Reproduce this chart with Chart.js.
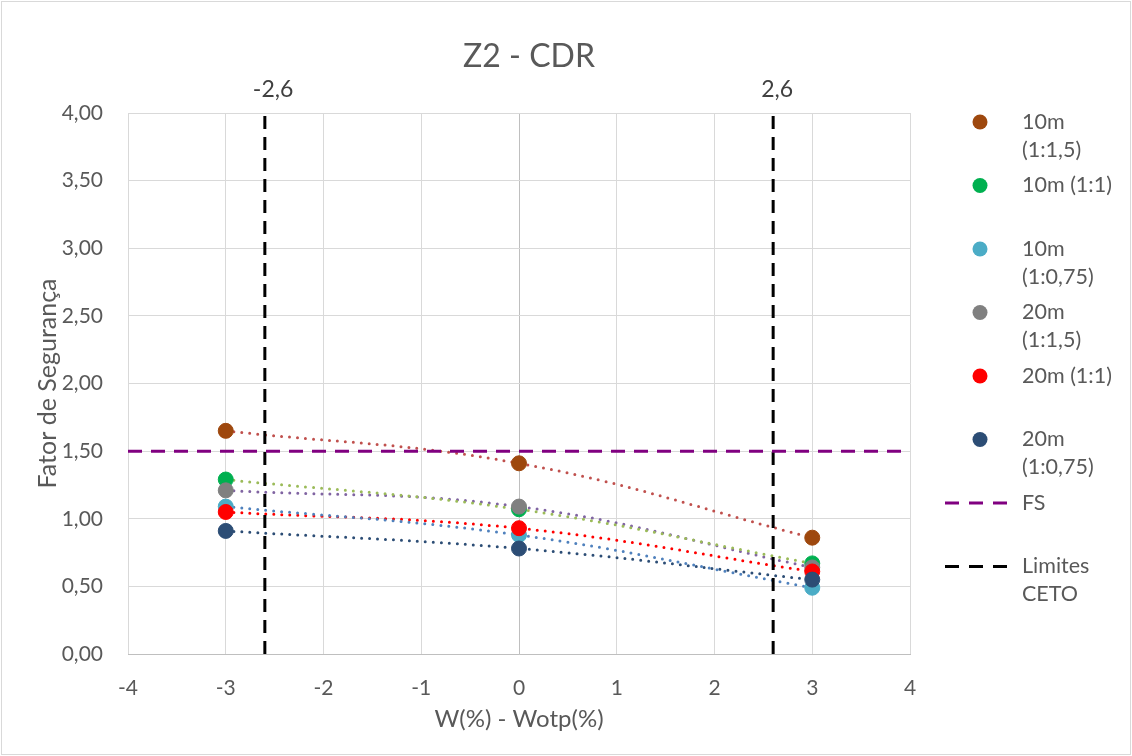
<!DOCTYPE html>
<html>
<head>
<meta charset="utf-8">
<title>Z2 - CDR</title>
<script src="https://cdn.jsdelivr.net/npm/chart.js@4.4.0/dist/chart.umd.min.js"></script>
<style>
  html, body { margin: 0; padding: 0; background: #fff; }
  #wrap { width: 1132px; height: 756px; }
</style>
</head>
<body>
<div id="wrap"><canvas id="chart" width="1132" height="756"></canvas></div>
<script>
// Fator de segurança for each slope, at W - Wotp = -3, 0, 3 (%)
const chartTitle = 'Z2 - CDR';
const xValues = [-3, 0, 3];
const seriesNames = ['10m (1:1,5)', '10m (1:1)', '10m (1:0,75)', '20m (1:1,5)', '20m (1:1)', '20m (1:0,75)'];
const fs10m_15 = [1.65, 1.41, 0.86];
const fs10m_1 = [1.29, 1.07, 0.67];
const fs10m_075 = [1.09, 0.88, 0.49];
const fs20m_15 = [1.21, 1.09, 0.64];
const fs20m_1 = [1.05, 0.93, 0.61];
const fs20m_075 = [0.91, 0.78, 0.55];
const seriesValues = [fs10m_15, fs10m_1, fs10m_075, fs20m_15, fs20m_1, fs20m_075];

// reference lines
const fsMin = 1.5;
const cetoLimits = [-2.6, 2.6];
const xTicks = [-4, -3, -2, -1, 0, 1, 2, 3, 4];
const yTicks = [0, 0.5, 1, 1.5, 2, 2.5, 3, 3.5, 4];

const markerColors = ['#9e480e', '#00b050', '#4bacc6', '#808080', '#ff0000', '#2c4d75'];
const trendColors = ['#c0504d', '#9bbb59', '#4f81bd', '#8064a2', '#ff0000', '#2c4d75'];
const fsColor = '#800080';
const cetoColor = '#000000';
const textColor = '#595959';
const fontFamily = 'Lato, "Open Sans", sans-serif';

const xMin = xTicks[0], xMax = xTicks[xTicks.length - 1];
const yMin = yTicks[0], yMax = yTicks[yTicks.length - 1];

function toPoints(values) {
    return values.map((v, i) => ({ x: xValues[i], y: v }));
}

function comma(v, digits) {
    return v.toFixed(digits).replace('.', ',');
}

const datasets = [];

// markers: the last series sits on top
seriesValues.forEach((values, i) => {
    datasets.push({
        label: seriesNames[i],
        data: toPoints(values),
        showLine: false,
        pointRadius: 7.5,
        pointHoverRadius: 7.5,
        pointBackgroundColor: markerColors[i],
        pointBorderColor: markerColors[i],
        pointBorderWidth: 1,
        order: seriesValues.length - i
    });
});

// dotted trend curves under the markers
seriesValues.forEach((values, i) => {
    datasets.push({
        label: seriesNames[i] + ' trend',
        data: toPoints(values),
        borderColor: trendColors[i],
        borderWidth: 3,
        borderDash: [0, 8],
        borderCapStyle: 'round',
        tension: 0.4,
        pointRadius: 0,
        order: 40 + i
    });
});

datasets.push({
    label: 'FS',
    data: [{ x: xMin, y: fsMin }, { x: xMax, y: fsMin }],
    borderColor: fsColor,
    borderWidth: 3,
    borderDash: [14, 9],
    pointRadius: 0,
    order: 20
});

const cetoData = [];
cetoLimits.forEach((v, i) => {
    if (i > 0) cetoData.push({ x: v, y: null });
    cetoData.push({ x: v, y: yMin }, { x: v, y: yMax });
});
datasets.push({
    label: 'Limites CETO',
    data: cetoData,
    borderColor: cetoColor,
    borderWidth: 3,
    borderDash: [13, 8],
    pointRadius: 0,
    spanGaps: false,
    order: 21
});

// legend entries drawn on the right
const legendItems = seriesNames.map((name, i) => ({ text: name, kind: 'dot', color: markerColors[i] }))
    .concat([
        { text: 'FS', kind: 'dash', color: fsColor },
        { text: 'Limites CETO', kind: 'dash', color: cetoColor }
    ]);

function wrapLabel(text) {
    if (text.length <= 9) return [text];
    const cut = text.indexOf(' ');
    return [text.slice(0, cut), text.slice(cut + 1)];
}

const decorations = {
    id: 'decorations',
    afterDraw(chart) {
        const { ctx, chartArea, scales } = chart;
        const x = scales.x, y = scales.y;
        ctx.save();

        // outer frame
        ctx.strokeStyle = '#d9d9d9';
        ctx.lineWidth = 1;
        ctx.strokeRect(1.5, 1.5, chart.width - 3, chart.height - 3);

        // title
        ctx.fillStyle = textColor;
        ctx.font = '32px ' + fontFamily;
        ctx.textAlign = 'center';
        ctx.textBaseline = 'middle';
        ctx.fillText(chartTitle, (chartArea.left + chartArea.right) / 2 + 10, 57);

        // value labels above the CETO lines
        ctx.fillStyle = '#404040';
        ctx.font = '23px ' + fontFamily;
        ctx.textAlign = 'left';
        cetoLimits.forEach(v => {
            ctx.fillText(comma(v, 1), x.getPixelForValue(v) - 12, y.getPixelForValue(yMax) - 23);
        });

        // legend
        const markX = 980, textX = 1022, top = 122, step = 63.5, lineH = 28;
        ctx.font = '21.5px ' + fontFamily;
        legendItems.forEach((item, i) => {
            const cy = top + i * step;
            if (item.kind === 'dot') {
                ctx.fillStyle = item.color;
                ctx.beginPath();
                ctx.arc(markX, cy, 7.5, 0, Math.PI * 2);
                ctx.fill();
            } else {
                ctx.strokeStyle = item.color;
                ctx.lineWidth = 3;
                ctx.setLineDash([14, 10]);
                ctx.beginPath();
                ctx.moveTo(945, cy);
                ctx.lineTo(1007, cy);
                ctx.stroke();
                ctx.setLineDash([]);
            }
            ctx.fillStyle = textColor;
            wrapLabel(item.text).forEach((line, k) => {
                ctx.fillText(line, textX, cy + k * lineH);
            });
        });

        ctx.restore();
    }
};

new Chart(document.getElementById('chart'), {
    type: 'line',
    data: { datasets: datasets },
    options: {
        responsive: false,
        animation: false,
        events: [],
        layout: { padding: { left: 0, top: 113, right: 222, bottom: 0 } },
        plugins: {
            legend: { display: false },
            tooltip: { enabled: false },
            title: { display: false }
        },
        scales: {
            x: {
                type: 'linear',
                min: xMin,
                max: xMax,
                afterBuildTicks: scale => { scale.ticks = xTicks.map(v => ({ value: v })); },
                afterFit: scale => { scale.height = 102; },
                grid: {
                    drawTicks: false,
                    color: c => (c.tick && c.tick.value === 0 ? '#bfbfbf' : '#d9d9d9'),
                    lineWidth: 1
                },
                border: { display: true, color: '#bfbfbf' },
                ticks: {
                    padding: 22,
                    color: textColor,
                    font: { family: fontFamily, size: 21 },
                    callback: v => String(v)
                },
                title: {
                    display: true,
                    text: 'W(%) - Wotp(%)',
                    color: textColor,
                    font: { family: fontFamily, size: 24 },
                    padding: { top: 0, bottom: 22 }
                }
            },
            y: {
                type: 'linear',
                min: yMin,
                max: yMax,
                afterBuildTicks: scale => { scale.ticks = yTicks.map(v => ({ value: v })); },
                afterFit: scale => { scale.width = 128; },
                grid: { drawTicks: false, color: '#d9d9d9', lineWidth: 1 },
                border: { display: false },
                ticks: {
                    padding: 25,
                    color: textColor,
                    font: { family: fontFamily, size: 21 },
                    callback: v => comma(v, 2)
                },
                title: {
                    display: true,
                    text: 'Fator de Segurança',
                    color: textColor,
                    font: { family: fontFamily, size: 25 },
                    padding: { top: 33, bottom: 0 }
                }
            }
        }
    },
    plugins: [decorations]
});
</script>
</body>
</html>
